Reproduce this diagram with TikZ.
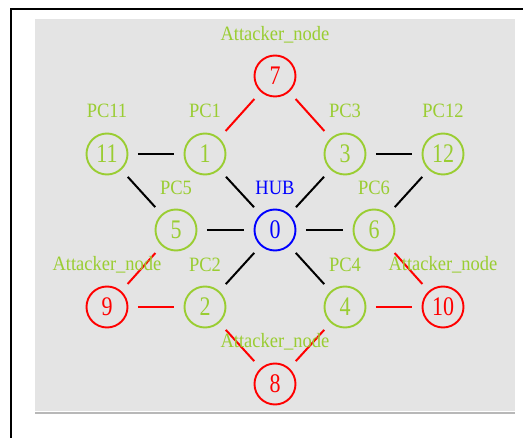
\documentclass[tikz,border=0pt]{standalone}
\usepackage{fontspec}
\usepackage{graphicx}
\setmainfont{Liberation Serif}
\definecolor{pcgreen}{HTML}{9ACD32}
\definecolor{bggray}{HTML}{E4E4E4}
\definecolor{rulegray}{HTML}{B8B8B8}
\newcommand\dnum[1]{\scalebox{1}[1.22]{\fontsize{22}{22}\selectfont #1}}
\newcommand\lbltxt[1]{\scalebox{1}[1.1]{\fontsize{18.5}{18.5}\selectfont #1}}
\begin{document}
\begin{tikzpicture}[x=1pt,y=-1pt,
  pc/.style={circle, draw=pcgreen, text=pcgreen, line width=1.9pt, minimum size=41pt, inner sep=0pt},
  atk/.style={pc, draw=red, text=red},
  hubnode/.style={pc, draw=blue, text=blue},
  lab/.style={text=pcgreen, inner sep=0pt},
  hublab/.style={text=blue, inner sep=0pt},
  link/.style={line width=2pt, shorten <=9.5pt, shorten >=9.5pt},
  blk/.style={link, black},
  rd/.style={link, red}]
\useasboundingbox (0,0) rectangle (523,438);
% frame and background
\fill[bggray] (35,19) rectangle (515,411);
\draw[rulegray, line width=1.5pt] (35,413) -- (515,413);
\draw[black, line width=2pt] (11,438) -- (11,9) -- (523,9);
% nodes
\node[atk] (n7) at (275,76) {\dnum{7}};
\node[pc] (n11) at (107,154) {\dnum{11}};
\node[pc] (n1) at (205,154) {\dnum{1}};
\node[pc] (n3) at (345,154) {\dnum{3}};
\node[pc] (n12) at (443,154) {\dnum{12}};
\node[pc] (n5) at (176,230) {\dnum{5}};
\node[hubnode] (n0) at (275,230) {\dnum{0}};
\node[pc] (n6) at (374,230) {\dnum{6}};
\node[atk] (n9) at (107,307) {\dnum{9}};
\node[pc] (n2) at (205,307) {\dnum{2}};
\node[pc] (n4) at (345,307) {\dnum{4}};
\node[atk] (n10) at (443,307) {\dnum{10}};
\node[atk] (n8) at (275,384) {\dnum{8}};
% edges
\draw[blk] (n11) -- (n1);
\draw[blk] (n11) -- (n5);
\draw[blk] (n1) -- (n0);
\draw[blk] (n3) -- (n0);
\draw[blk] (n3) -- (n12);
\draw[blk] (n12) -- (n6);
\draw[blk] (n5) -- (n0);
\draw[blk] (n0) -- (n6);
\draw[blk] (n0) -- (n2);
\draw[blk] (n0) -- (n4);
\draw[rd] (n7) -- (n1);
\draw[rd] (n7) -- (n3);
\draw[rd] (n5) -- (n9);
\draw[rd] (n9) -- (n2);
\draw[rd] (n2) -- (n8);
\draw[rd] (n8) -- (n4);
\draw[rd] (n4) -- (n10);
\draw[rd] (n10) -- (n6);
% labels
\node[lab] (l7) at (275,35) {\lbltxt{Attacker\_node}};
\node[lab] (l11) at (107,111) {\lbltxt{PC11}};
\node[lab] (l1) at (205,111) {\lbltxt{PC1}};
\node[lab] (l3) at (345,111) {\lbltxt{PC3}};
\node[lab] (l12) at (443,111) {\lbltxt{PC12}};
\node[lab] (l5) at (176,188) {\lbltxt{PC5}};
\node[hublab] (l0) at (275,188) {\lbltxt{HUB}};
\node[lab] (l6) at (374,188) {\lbltxt{PC6}};
\node[lab] (l9) at (107,265) {\lbltxt{Attacker\_node}};
\node[lab] (l2) at (205,265) {\lbltxt{PC2}};
\node[lab] (l4) at (345,265) {\lbltxt{PC4}};
\node[lab] (l10) at (443,265) {\lbltxt{Attacker\_node}};
\node[lab] (l8) at (275,342) {\lbltxt{Attacker\_node}};
\end{tikzpicture}
\end{document}
